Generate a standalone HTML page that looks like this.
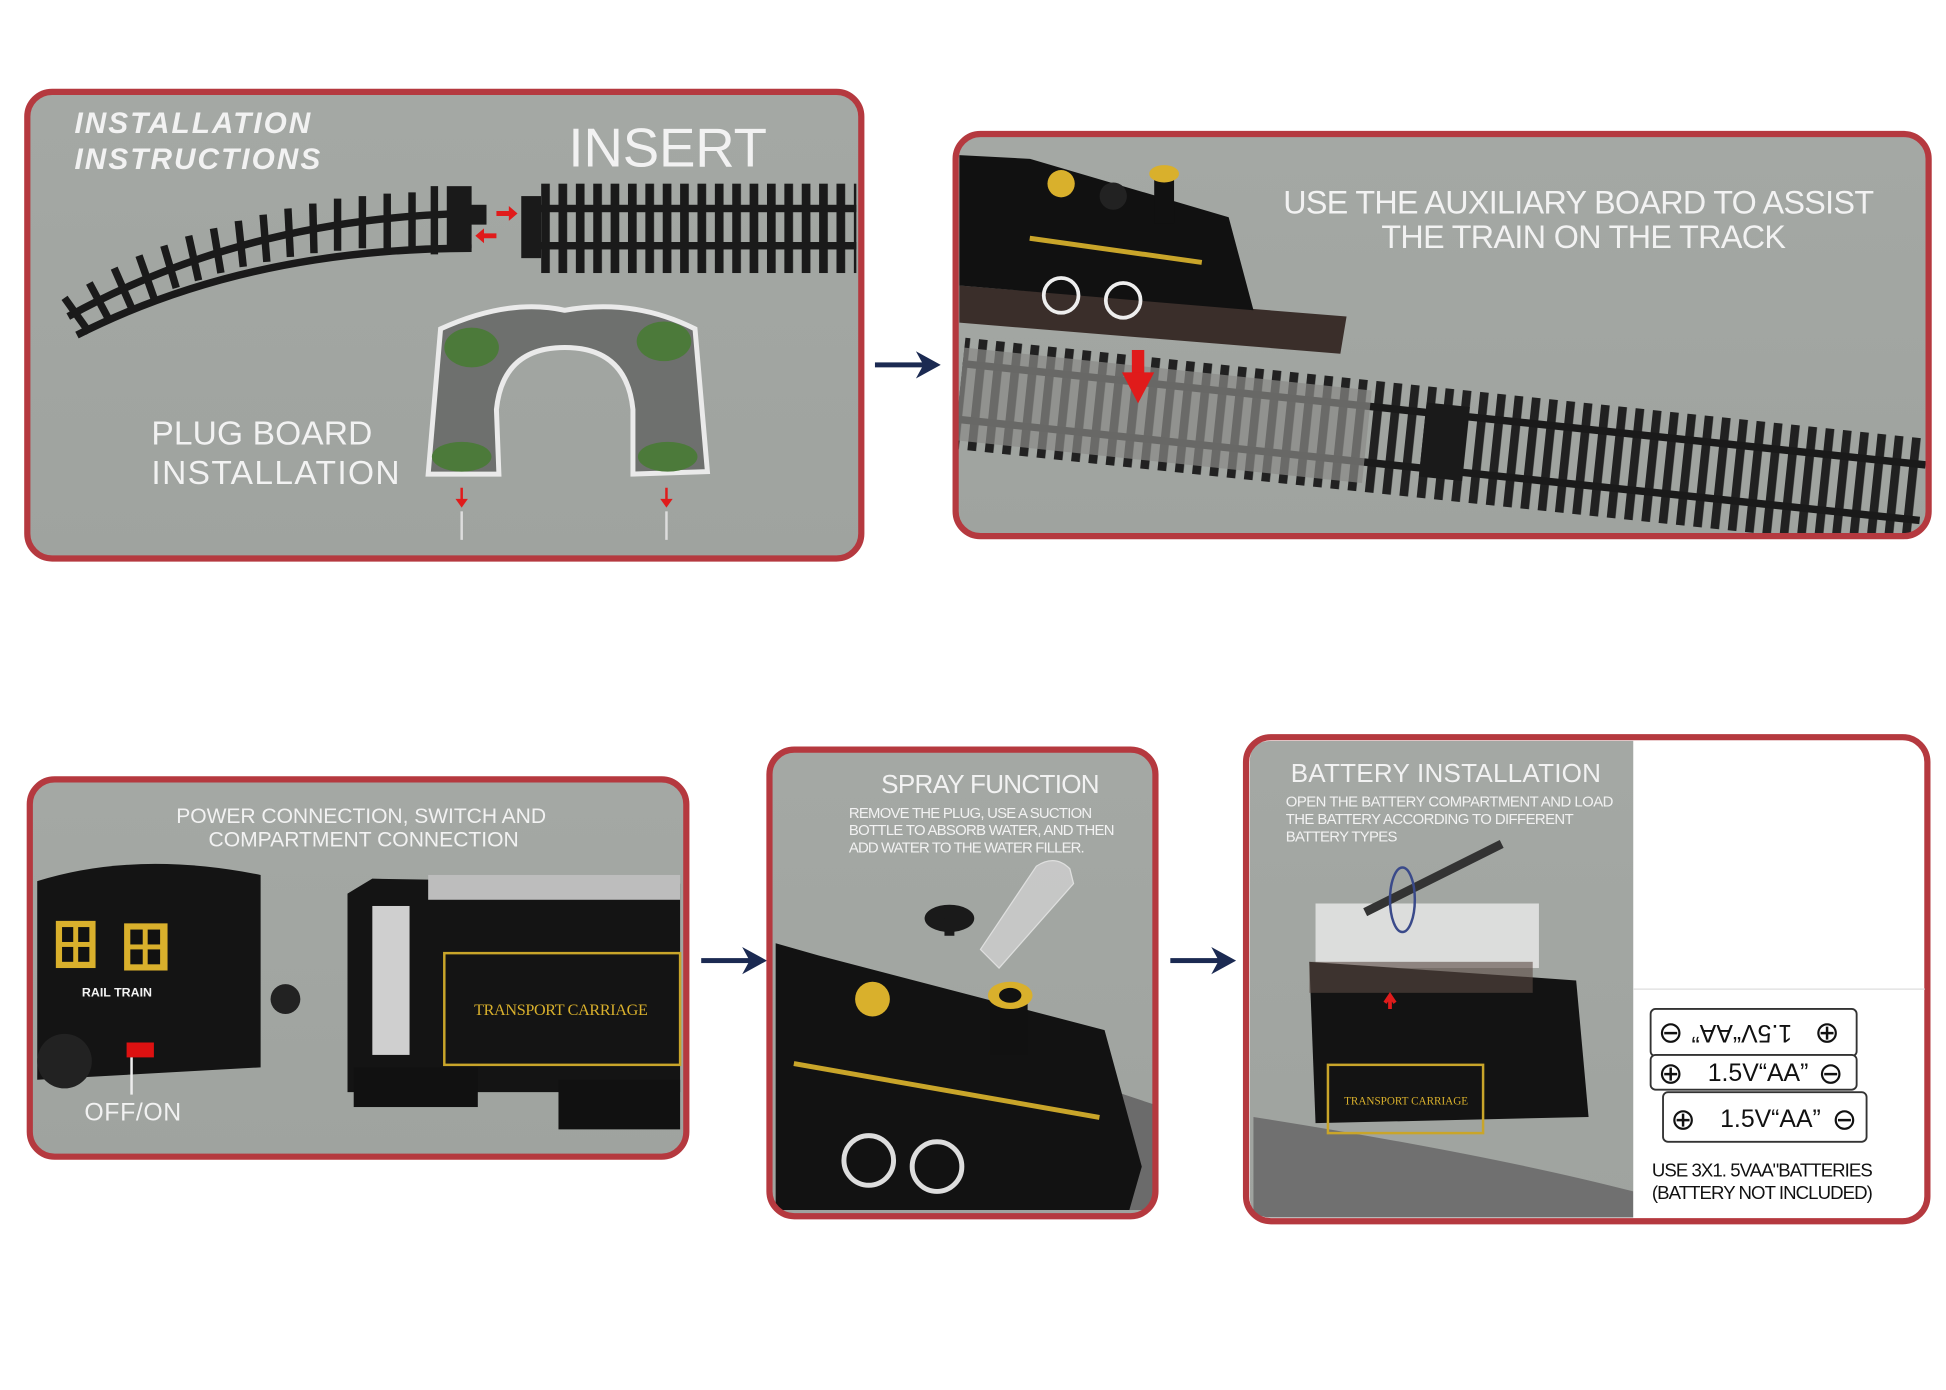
<!DOCTYPE html>
<html><head><meta charset="utf-8"><style>
html,body{margin:0;padding:0;background:#fff;}
svg{display:block;}
text{font-family:"Liberation Sans Narrow","Liberation Sans",sans-serif;fill:#f2f2f2;}
text.d{fill:#111;}
text.g{fill:#d9b02c;font-family:"Liberation Serif",serif;}
</style></head><body>
<svg width="1946" height="1390" viewBox="0 0 1568 1120" preserveAspectRatio="none" xmlns="http://www.w3.org/2000/svg">
<defs>
<pattern id="ties" width="14" height="40" patternUnits="userSpaceOnUse"><rect x="2" y="0" width="7" height="40" fill="#1a1a1a"/></pattern>
<linearGradient id="bg" x1="0" y1="0" x2="0" y2="1"><stop offset="0" stop-color="#a4a8a4"/><stop offset="1" stop-color="#9fa39f"/></linearGradient>
<clipPath id="c2"><rect x="772" y="110" width="780" height="320" rx="18"/></clipPath>
<clipPath id="c3"><rect x="26" y="630" width="525" height="300" rx="18"/></clipPath>
<clipPath id="c4"><rect x="622" y="606" width="307" height="372" rx="18"/></clipPath>
<clipPath id="c5"><path d="M1316 597 L1316 981 L1024 981 Q1007 981 1007 964 L1007 614 Q1007 597 1024 597Z"/></clipPath>
</defs>
<rect width="1568" height="1120" fill="#fff"/>

<!-- Panel 1 -->
<rect x="22" y="74" width="672" height="376" rx="20" fill="url(#bg)" stroke="#b5393f" stroke-width="5"/>
<text x="60" y="107" font-size="24" font-weight="bold" font-style="italic" textLength="190">INSTALLATION</text>
<text x="60" y="136" font-size="24" font-weight="bold" font-style="italic" textLength="198">INSTRUCTIONS</text>
<text x="458" y="134" font-size="44" textLength="160" fill="#eee">INSERT</text>
<path d="M55 255 Q200 175 380 172" fill="none" stroke="#1a1a1a" stroke-width="6" />
<path d="M62 270 Q200 200 380 200" fill="none" stroke="#1a1a1a" stroke-width="6"/>
<g stroke="#1a1a1a" stroke-width="6">
<line x1="52" y1="240" x2="72" y2="268"/><line x1="72" y1="228" x2="88" y2="258"/><line x1="92" y1="216" x2="106" y2="248"/><line x1="112" y1="206" x2="124" y2="240"/><line x1="132" y1="198" x2="142" y2="232"/><line x1="152" y1="190" x2="160" y2="226"/><line x1="172" y1="184" x2="178" y2="220"/><line x1="192" y1="178" x2="196" y2="215"/><line x1="212" y1="173" x2="215" y2="211"/><line x1="232" y1="168" x2="234" y2="207"/><line x1="252" y1="164" x2="253" y2="204"/><line x1="272" y1="160" x2="272" y2="202"/><line x1="292" y1="158" x2="292" y2="200"/><line x1="312" y1="156" x2="312" y2="200"/><line x1="332" y1="155" x2="332" y2="200"/><line x1="350" y1="150" x2="350" y2="205"/>
</g>
<rect x="360" y="150" width="20" height="50" fill="#1a1a1a"/><rect x="378" y="165" width="14" height="16" fill="#1a1a1a"/>
<rect x="420" y="158" width="16" height="50" fill="#1a1a1a"/>
<rect x="430" y="165" width="260" height="6" fill="#1a1a1a"/><rect x="430" y="195" width="260" height="6" fill="#1a1a1a"/>
<rect x="436" y="148" width="254" height="72" fill="url(#ties)"/>
<path d="M400 170 h10 v-4 l7 6 -7 6 v-4 h-10z" fill="#e01b1b"/>
<path d="M400 188 h-10 v-4 l-7 6 7 6 v-4 h10z" fill="#e01b1b"/>
<path d="M355 265 Q410 240 455 250 Q510 240 560 265 L570 380 L510 382 L510 330 Q505 280 455 280 Q405 280 400 330 L402 382 L345 382 Z" fill="#6e706e" stroke="#eaeaea" stroke-width="4"/>
<ellipse cx="380" cy="280" rx="22" ry="16" fill="#4c7a3a"/><ellipse cx="535" cy="275" rx="22" ry="16" fill="#4c7a3a"/>
<ellipse cx="372" cy="368" rx="24" ry="12" fill="#4c7a3a"/><ellipse cx="538" cy="368" rx="24" ry="12" fill="#4c7a3a"/>
<path d="M371 393 v9 h-4 l5 7 5 -7 h-4 v-9z" fill="#e01b1b"/><path d="M536 393 v9 h-4 l5 7 5 -7 h-4 v-9z" fill="#e01b1b"/>
<line x1="372" y1="412" x2="372" y2="435" stroke="#ddd" stroke-width="2"/><line x1="537" y1="412" x2="537" y2="435" stroke="#ddd" stroke-width="2"/>
<text x="122" y="358" font-size="27" textLength="178">PLUG BOARD</text>
<text x="122" y="390" font-size="27" textLength="200">INSTALLATION</text>

<g fill="#1b2a52"><rect x="705" y="292" width="40" height="4"/><path d="M738 283 L758 294 L738 305 L744 294Z"/>
<rect x="565" y="772" width="40" height="4"/><path d="M598 763 L618 774 L598 785 L604 774Z"/>
<rect x="943" y="772" width="40" height="4"/><path d="M976 763 L996 774 L976 785 L982 774Z"/></g>

<!-- Panel 2 -->
<rect x="770" y="108" width="784" height="324" rx="20" fill="url(#bg)"/>
<g clip-path="url(#c2)">
<text x="1034" y="172" font-size="26" textLength="476">USE THE AUXILIARY BOARD TO ASSIST</text>
<text x="1113" y="200" font-size="26" textLength="326">THE TRAIN ON THE TRACK</text>
<path d="M773 230 L1085 255 L1080 285 L773 260Z" fill="#3a2e2a"/>
<path d="M773 125 L830 128 L990 175 L1010 250 L773 230Z" fill="#111"/>
<rect x="830" y="190" width="140" height="4" fill="#c9a52a" transform="rotate(8 830 190)"/>
<circle cx="855" cy="148" r="11" fill="#d9b02c"/><circle cx="897" cy="158" r="11" fill="#222"/><rect x="930" y="140" width="16" height="40" fill="#111"/><ellipse cx="938" cy="140" rx="12" ry="7" fill="#d9b02c"/>
<circle cx="855" cy="238" r="14" fill="none" stroke="#eee" stroke-width="3"/><circle cx="905" cy="242" r="14" fill="none" stroke="#eee" stroke-width="3"/>
<g transform="rotate(6 775 300)">
<rect x="775" y="272" width="780" height="90" fill="url(#ties)" opacity="0.95"/>
<rect x="775" y="290" width="780" height="6" fill="#1a1a1a"/><rect x="775" y="335" width="780" height="6" fill="#1a1a1a"/>
<rect x="775" y="280" width="330" height="75" fill="#8a8a88" opacity="0.7"/>
<rect x="1150" y="285" width="35" height="60" fill="#1a1a1a"/>
</g>
<rect x="912" y="282" width="10" height="20" fill="#e01b1b"/><path d="M904 300 L930 300 L917 325Z" fill="#e01b1b"/>
</g>
<rect x="770" y="108" width="784" height="324" rx="20" fill="none" stroke="#b5393f" stroke-width="5"/>

<!-- Panel 3 -->
<rect x="24" y="628" width="529" height="304" rx="20" fill="url(#bg)"/>
<g clip-path="url(#c3)">
<text x="142" y="663" font-size="17" textLength="298">POWER CONNECTION, SWITCH AND</text>
<text x="168" y="682" font-size="17" textLength="250">COMPARTMENT CONNECTION</text>
<path d="M30 710 Q110 685 210 705 L210 860 L30 870Z" fill="#141414"/>
<rect x="45" y="742" width="32" height="38" fill="#d9b02c"/><rect x="50" y="747" width="9" height="12" fill="#111"/><rect x="63" y="747" width="9" height="12" fill="#111"/><rect x="50" y="763" width="9" height="12" fill="#111"/><rect x="63" y="763" width="9" height="12" fill="#111"/>
<rect x="100" y="744" width="35" height="38" fill="#d9b02c"/><rect x="105" y="749" width="10" height="12" fill="#111"/><rect x="119" y="749" width="10" height="12" fill="#111"/><rect x="105" y="765" width="10" height="12" fill="#111"/><rect x="119" y="765" width="10" height="12" fill="#111"/>
<text x="66" y="803" font-size="10" font-weight="bold">RAIL TRAIN</text>
<circle cx="52" cy="855" r="22" fill="#222"/><rect x="102" y="840" width="22" height="12" fill="#d11"/>
<line x1="106" y1="852" x2="106" y2="882" stroke="#eee" stroke-width="2"/>
<text x="68" y="903" font-size="20" textLength="78">OFF/ON</text>
<circle cx="230" cy="805" r="12" fill="#222"/>
<path d="M280 720 L300 708 L548 712 L548 880 L280 880Z" fill="#141414"/>
<rect x="345" y="705" width="203" height="20" fill="#bdbdbd"/>
<rect x="300" y="730" width="30" height="120" fill="#cfcfcf"/>
<rect x="358" y="768" width="190" height="90" fill="none" stroke="#c9a52a" stroke-width="2"/>
<text class="g" x="382" y="818" font-size="13" textLength="140">TRANSPORT CARRIAGE</text>
<rect x="285" y="860" width="100" height="32" fill="#111"/><rect x="450" y="870" width="98" height="40" fill="#111"/>
</g>
<rect x="24" y="628" width="529" height="304" rx="20" fill="none" stroke="#b5393f" stroke-width="5"/>

<!-- Panel 4 -->
<rect x="620" y="604" width="311" height="376" rx="20" fill="url(#bg)"/>
<g clip-path="url(#c4)">
<text x="710" y="639" font-size="21" textLength="176">SPRAY FUNCTION</text>
<text x="684" y="659" font-size="12" textLength="196">REMOVE THE PLUG, USE A SUCTION</text>
<text x="684" y="673" font-size="12" textLength="214">BOTTLE TO ABSORB WATER, AND THEN</text>
<text x="684" y="687" font-size="12" textLength="190">ADD WATER TO THE WATER FILLER.</text>
<path d="M900 880 L930 890 L930 975 L880 975Z" fill="#6b6b6b"/>
<path d="M625 760 L660 770 L890 830 L920 940 L910 975 L625 975Z" fill="#121212"/>
<rect x="640" y="855" width="250" height="4" fill="#c9a52a" transform="rotate(10 640 855)"/>
<ellipse cx="765" cy="740" rx="20" ry="11" fill="#1a1a1a"/><rect x="761" y="740" width="8" height="14" fill="#1a1a1a"/>
<path d="M790 765 L835 698 Q850 688 862 700 L865 712 L805 780Z" fill="#d0d0d0" opacity="0.8" stroke="#eee"/>
<circle cx="703" cy="805" r="14" fill="#d9b02c"/><rect x="798" y="805" width="30" height="45" fill="#111"/><ellipse cx="814" cy="802" rx="18" ry="11" fill="#d9b02c"/><ellipse cx="814" cy="802" rx="9" ry="6" fill="#111"/>
<circle cx="700" cy="935" r="20" fill="none" stroke="#ddd" stroke-width="4"/><circle cx="755" cy="940" r="20" fill="none" stroke="#ddd" stroke-width="4"/>
</g>
<rect x="620" y="604" width="311" height="376" rx="20" fill="none" stroke="#b5393f" stroke-width="5"/>

<!-- Panel 5 -->
<rect x="1004" y="594" width="549" height="390" rx="20" fill="#fff"/>
<path d="M1316 597 L1316 981 L1024 981 Q1007 981 1007 964 L1007 614 Q1007 597 1024 597Z" fill="url(#bg)"/>
<g clip-path="url(#c5)">
<text x="1040" y="630" font-size="21" textLength="250">BATTERY INSTALLATION</text>
<text x="1036" y="650" font-size="12" textLength="264">OPEN THE BATTERY COMPARTMENT AND LOAD</text>
<text x="1036" y="664" font-size="12" textLength="232">THE BATTERY ACCORDING TO DIFFERENT</text>
<text x="1036" y="678" font-size="12" textLength="90">BATTERY TYPES</text>
<path d="M1010 900 L1010 985 L1316 985 L1316 960 Q1200 930 1010 900Z" fill="#707070"/>
<rect x="1060" y="728" width="180" height="52" fill="#e6e6e6" opacity="0.85"/>
<line x1="1100" y1="735" x2="1210" y2="680" stroke="#333" stroke-width="7"/>
<ellipse cx="1130" cy="725" rx="10" ry="26" fill="none" stroke="#3a4a8a" stroke-width="2"/>
<path d="M1055 775 L1270 790 L1280 900 L1060 905Z" fill="#131313"/>
<rect x="1055" y="775" width="180" height="25" fill="#5a4a42" opacity="0.6"/>
<rect x="1070" y="858" width="125" height="55" fill="none" stroke="#c9a52a" stroke-width="2"/>
<text class="g" x="1083" y="890" font-size="9">TRANSPORT CARRIAGE</text>
<path d="M1120 803 v10 M1116 808 l4 -6 4 6" stroke="#e01b1b" stroke-width="3" fill="none"/>
</g>
<rect x="1004" y="594" width="549" height="390" rx="20" fill="none" stroke="#b5393f" stroke-width="5"/>
<line x1="1316" y1="797" x2="1551" y2="797" stroke="#ddd"/>
<g fill="#fff" stroke="#333" stroke-width="1.5">
<rect x="1330" y="813" width="166" height="38" rx="4"/>
<rect x="1330" y="850" width="166" height="28" rx="4"/>
<rect x="1340" y="880" width="164" height="40" rx="4"/>
</g>
<text class="d" x="1376" y="838" font-size="20" transform="rotate(180 1410 832)">1.5V“AA”</text>
<text class="d" x="1376" y="871" font-size="20">1.5V“AA”</text>
<text class="d" x="1386" y="908" font-size="20">1.5V“AA”</text>
<text class="d" x="1336" y="840" font-size="24">⊖</text><text class="d" x="1462" y="840" font-size="24">⊕</text>
<text class="d" x="1336" y="873" font-size="24">⊕</text><text class="d" x="1465" y="873" font-size="24">⊖</text>
<text class="d" x="1346" y="910" font-size="24">⊕</text><text class="d" x="1476" y="910" font-size="24">⊖</text>
<text class="d" x="1331" y="948" font-size="15" textLength="178">USE 3X1. 5VAA"BATTERIES</text>
<text class="d" x="1331" y="966" font-size="15" textLength="178">(BATTERY NOT INCLUDED)</text>
</svg>
</body></html>
